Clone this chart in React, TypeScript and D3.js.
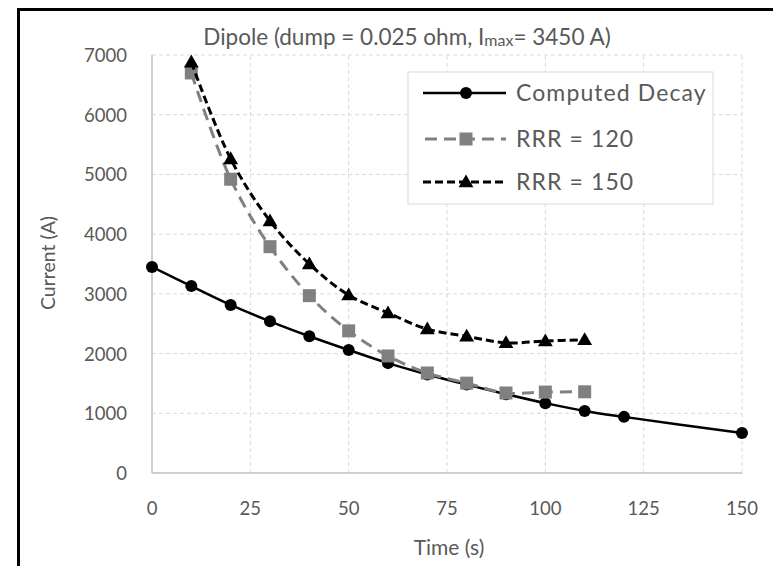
import React from 'react';
import * as d3 from 'd3';

const decayTime = [0, 10, 20, 30, 40, 50, 60, 70, 80, 90, 100, 110, 120, 150];
const decayCurrent = [3450, 3130, 2815, 2540, 2290, 2060, 1840, 1650, 1480, 1320, 1170, 1040, 940, 670];

const rrrTime = [10, 20, 30, 40, 50, 60, 70, 80, 90, 100, 110];
const rrr120 = [6700, 4920, 3790, 2970, 2380, 1960, 1675, 1505, 1340, 1355, 1360];
const rrr150 = [6880, 5260, 4220, 3500, 2980, 2680, 2410, 2290, 2180, 2210, 2230];

const xTicks = [0, 25, 50, 75, 100, 125, 150];
const yTicks = [0, 1000, 2000, 3000, 4000, 5000, 6000, 7000];

const legendNames = ['Computed Decay', 'RRR = 120', 'RRR = 150'];

const W = 773;
const H = 566;
const FONT = 'Lato, "Open Sans", sans-serif';
const TXT = '#595959';

export default function App() {
  const x = d3.scaleLinear().domain([0, 150]).range([152, 742]);
  const y = d3.scaleLinear().domain([0, 7000]).range([473, 55]);

  const line = d3
    .line<[number, number]>()
    .x((d) => x(d[0]))
    .y((d) => y(d[1]))
    .curve(d3.curveCatmullRom.alpha(0.5));

  const decayPts = decayTime.map((t, i) => [t, decayCurrent[i]] as [number, number]);
  const pts120 = rrrTime.map((t, i) => [t, rrr120[i]] as [number, number]);
  const pts150 = rrrTime.map((t, i) => [t, rrr150[i]] as [number, number]);

  const tri = d3.symbol().type(d3.symbolTriangle).size(95)();

  // legend box and rows
  const lgX = 408, lgY = 72, lgW = 305, lgH = 132;
  const rowY = [93, 139, 182];

  return (
    <svg width={W} height={H} style={{ position: 'absolute', left: 0, top: 0 }} fontFamily={FONT}>
      <rect width={W} height={H} fill="#fff" />
      {/* frame */}
      <path d={`M18.5,${H} V9.5 H${W}`} fill="none" stroke="#000" strokeWidth={3} />

      {/* grid */}
      {yTicks.filter((v) => v > 0).map((v) => (
        <line key={'gy' + v} x1={x(0)} x2={x(150)} y1={y(v)} y2={y(v)} stroke="#d9d9d9" strokeWidth={1} strokeDasharray="4,3" />
      ))}
      {xTicks.filter((v) => v > 0).map((v) => (
        <line key={'gx' + v} x1={x(v)} x2={x(v)} y1={y(0)} y2={y(7000)} stroke="#d9d9d9" strokeWidth={1} strokeDasharray="4,3" />
      ))}
      <line x1={x(0)} x2={x(0)} y1={y(0)} y2={y(7000)} stroke="#bfbfbf" strokeWidth={1.5} />
      <line x1={x(0)} x2={x(150)} y1={y(0)} y2={y(0)} stroke="#bfbfbf" strokeWidth={1.5} />

      {/* tick labels */}
      {yTicks.map((v) => (
        <text key={'ty' + v} x={127} y={y(v) + 7} textAnchor="end" fontSize={18.5} fill={TXT}>{v}</text>
      ))}
      {xTicks.map((v) => (
        <text key={'tx' + v} x={x(v)} y={515} textAnchor="middle" fontSize={18.5} fill={TXT}>{v}</text>
      ))}

      {/* axis titles */}
      <text x={449} y={555} textAnchor="middle" fontSize={21} fill={TXT}>Time (s)</text>
      <text transform="translate(55,263) rotate(-90)" textAnchor="middle" fontSize={19.5} fill={TXT}>Current (A)</text>

      {/* title */}
      <text x={407} y={45} textAnchor="middle" fontSize={22.5} fill={TXT}>
        Dipole (dump = 0.025 ohm, I<tspan fontSize={16} dy={1}>max</tspan><tspan dy={-1}>= 3450 A)</tspan>
      </text>

      {/* series */}
      <path d={line(decayPts) || ''} fill="none" stroke="#000" strokeWidth={2.5} />
      {decayPts.map((d, i) => (
        <circle key={'c' + i} cx={x(d[0])} cy={y(d[1])} r={6} fill="#000" />
      ))}

      <path d={line(pts120) || ''} fill="none" stroke="#808080" strokeWidth={3} strokeDasharray="12,7" />
      {pts120.map((d, i) => (
        <rect key={'s' + i} x={x(d[0]) - 6.5} y={y(d[1]) - 6.5} width={13} height={13} fill="#808080" />
      ))}

      <path d={line(pts150) || ''} fill="none" stroke="#000" strokeWidth={3} strokeDasharray="8,4" />
      {pts150.map((d, i) => (
        <path key={'t' + i} d={tri || ''} transform={`translate(${x(d[0])},${y(d[1]) + 1})`} fill="#000" />
      ))}

      {/* legend */}
      <rect x={lgX} y={lgY} width={lgW} height={lgH} fill="#fff" stroke="#d9d9d9" strokeWidth={1} />
      <line x1={423} x2={506} y1={rowY[0]} y2={rowY[0]} stroke="#000" strokeWidth={2.5} />
      <circle cx={466} cy={rowY[0]} r={6} fill="#000" />
      <line x1={425} x2={506} y1={rowY[1]} y2={rowY[1]} stroke="#808080" strokeWidth={3} strokeDasharray="12,7" />
      <rect x={459.5} y={rowY[1] - 6.5} width={13} height={13} fill="#808080" />
      <line x1={423} x2={506} y1={rowY[2]} y2={rowY[2]} stroke="#000" strokeWidth={3} strokeDasharray="8,4" />
      <path d={tri || ''} transform={`translate(466,${rowY[2] + 1})`} fill="#000" />
      {legendNames.map((n, i) => (
        <text key={n} x={516} y={rowY[i] + 8} fontSize={23} letterSpacing={1.1} fill={TXT}>{n}</text>
      ))}
    </svg>
  );
}
